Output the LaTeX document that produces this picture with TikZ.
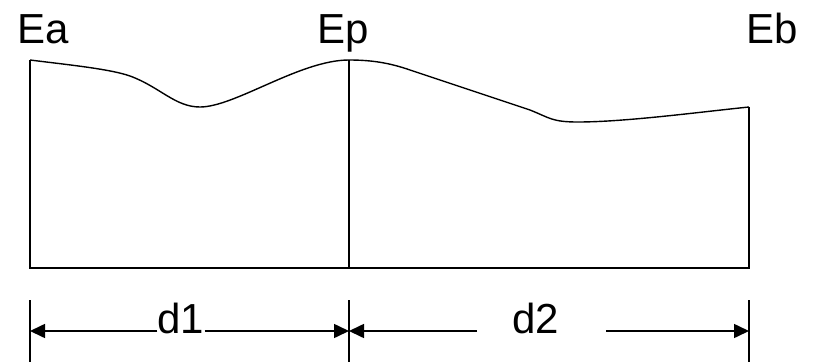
\documentclass[tikz,border=0pt]{standalone}
\usepackage{fontspec}
\setmainfont{Liberation Sans}
\usetikzlibrary{arrows.meta}
\begin{document}
\begin{tikzpicture}[x=1pt,y=-1pt,
  lbl/.style={font=\fontsize{42}{50}\selectfont, inner sep=0pt, anchor=base},
  ln/.style={line width=1.6pt},
  crv/.style={line width=1.4pt, line join=round},
  dim/.style={line width=1.6pt, -{Triangle[length=15pt,width=14pt]}}]
\useasboundingbox (0,0) rectangle (815,362);
% ground points
\coordinate (A0) at (30,268);
\coordinate (P0) at (349,268);
\coordinate (B0) at (749,268);
\coordinate (A1) at (30,60);
\coordinate (P1) at (349,60);
\coordinate (B1) at (749,107);
% profile
\draw[ln] (A1) -- (A0) -- (B0) -- (B1);
\draw[ln] (P1) -- (P0);
\draw[crv] (A1) .. controls (70,65) and (110,69) .. (130,76)
  .. controls (160,87) and (175,107) .. (200,107)
  .. controls (235,107) and (300,60) .. (P1)
  .. controls (372,60) and (390,63) .. (410,70)
  -- (530,110)
  .. controls (550,118) and (552,122) .. (578,122)
  .. controls (625,122) and (700,112) .. (B1);
% labels
\node[lbl] (Ea) at (43,43) {Ea};
\node[lbl] (Ep) at (343,43) {Ep};
\node[lbl] (Eb) at (772,43) {Eb};
% dimension ticks
\coordinate (tA) at (30,300); \coordinate (bA) at (30,362);
\coordinate (tP) at (349,300); \coordinate (bP) at (349,362);
\coordinate (tB) at (749,300); \coordinate (bB) at (749,362);
\draw[ln] (tA) -- (bA);
\draw[ln] (tP) -- (bP);
\draw[ln] (tB) -- (bB);
\coordinate (mA) at (30,331);
\coordinate (mP) at (349,331);
\coordinate (mB) at (749,331);
\node[lbl] (d1) at (181,333) {d1};
\node[lbl] (d2) at (536,333) {d2};
\coordinate (g1) at (477,331);
\coordinate (g2) at (606,331);
\draw[dim] (d1.west |- mA) -- (mA);
\draw[dim] (d1.east |- mP) -- (mP);
\draw[dim] (g1) -- (mP);
\draw[dim] (g2) -- (mB);
\end{tikzpicture}
\end{document}
